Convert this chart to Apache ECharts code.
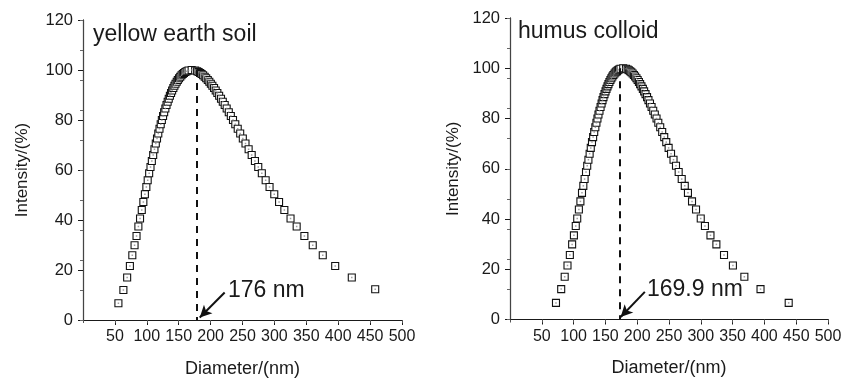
<!DOCTYPE html>
<html>
<head>
<meta charset="utf-8">
<script src="https://cdn.jsdelivr.net/npm/echarts@6/dist/echarts.min.js"></script>
<style>
  html, body { margin: 0; padding: 0; background: #fff; }
  #chart { width: 854px; height: 383px; }
</style>
</head>
<body>
<div id="chart"></div>
<script>
// yellow earth soil
var yellowDiameter = [55.5, 63.3, 69.2, 73.5, 77.3, 80.8, 83.9, 86.8, 89.4, 92.1, 94.6, 97.0, 99.3, 101.4, 103.7, 105.8,
  107.9, 110.0, 112.0, 114.1, 116.0, 118.0, 119.9, 121.8, 123.6, 125.5, 127.2, 129.1, 130.9, 132.7, 134.4, 136.2,
  138.0, 139.7, 141.6, 143.3, 145.0, 146.9, 148.6, 150.5, 152.4, 154.4, 156.4, 158.2, 160.4, 162.5, 165.4, 170.3,
  175.8, 178.9, 181.2, 183.7, 185.9, 188.3, 190.8, 193.1, 195.6, 198.0, 200.4, 202.8, 205.4, 208.0, 210.6, 213.4,
  216.3, 219.1, 222.1, 225.2, 228.5, 231.7, 235.1, 238.7, 242.5, 246.4, 250.5, 254.7, 259.6, 264.4, 269.5, 274.7,
  280.3, 286.3, 292.4, 299.8, 307.3, 315.6, 325.3, 334.9, 347.0, 360.1, 375.8, 395.3, 421.3, 458.0];
var yellowIntensity = [6.7, 12, 17, 21.6, 25.9, 29.9, 33.6, 37.4, 40.6, 44, 47.2, 50.3, 53.2, 55.9, 58.7, 61.2,
  63.6, 66, 68.3, 70.6, 72.6, 74.6, 76.5, 78.3, 80, 81.6, 83.1, 84.6, 86, 87.3, 88.5, 89.7,
  90.8, 91.8, 92.8, 93.7, 94.5, 95.3, 96, 96.7, 97.3, 97.9, 98.4, 98.8, 99.2, 99.5, 99.8, 100,
  99.8, 99.5, 99.2, 98.8, 98.4, 97.9, 97.3, 96.7, 96, 95.3, 94.5, 93.7, 92.8, 91.8, 90.8, 89.7,
  88.5, 87.3, 86, 84.6, 83.1, 81.6, 80, 78.3, 76.5, 74.6, 72.6, 70.6, 68.3, 66, 63.6, 61.2,
  58.7, 55.9, 53.2, 50.3, 47.2, 44, 40.6, 37.4, 33.6, 29.9, 25.9, 21.6, 17, 12.3];

// humus colloid
var humusDiameter = [72.3, 80.5, 86.0, 90.4, 94.1, 97.7, 100.5, 103.4, 105.7, 108.3, 110.7, 113.2, 115.3, 117.3, 119.5, 121.4,
  123.3, 125.2, 127.0, 128.9, 130.7, 132.4, 134.2, 135.9, 137.5, 139.1, 140.7, 142.4, 144.0, 145.5, 147.0, 148.6,
  150.2, 151.7, 153.3, 154.8, 156.3, 157.9, 159.4, 161.0, 162.6, 164.4, 166.1, 167.6, 169.5, 171.3, 173.7, 178.0,
  182.4, 185.0, 186.9, 189.0, 190.8, 192.8, 194.8, 196.7, 198.8, 200.7, 202.7, 204.6, 206.7, 208.9, 210.9, 213.1,
  215.5, 217.7, 220.1, 222.6, 225.2, 227.7, 230.4, 233.2, 236.2, 239.3, 242.5, 245.7, 249.4, 253.2, 257.1, 261.0,
  265.2, 270.0, 274.8, 279.8, 286.2, 292.5, 299.9, 306.5, 315.2, 324.5, 336.5, 350.5, 368.5, 393.9, 438.2];
var humusIntensity = [6.6, 12.1, 17, 21.5, 25.7, 29.9, 33.5, 37.2, 40.2, 43.8, 47, 50.4, 53.2, 55.9, 58.7, 61.2,
  63.6, 66, 68.3, 70.6, 72.6, 74.6, 76.5, 78.3, 80, 81.6, 83.1, 84.6, 86, 87.3, 88.5, 89.7,
  90.8, 91.8, 92.8, 93.7, 94.5, 95.3, 96, 96.7, 97.3, 97.9, 98.4, 98.8, 99.2, 99.5, 99.8, 100,
  99.8, 99.5, 99.2, 98.8, 98.4, 97.9, 97.3, 96.7, 96, 95.3, 94.5, 93.7, 92.8, 91.8, 90.8, 89.7,
  88.5, 87.3, 86, 84.6, 83.1, 81.6, 80, 78.3, 76.5, 74.6, 72.6, 70.6, 68.3, 66, 63.6, 61.2,
  58.7, 55.9, 53.2, 50.4, 47, 43.8, 40.2, 37.2, 33.5, 29.9, 25.7, 21.5, 17, 12.1, 6.6];

// peak markers: dashed line x, arrow start [x, y], arrow tip [x, y]
var yellowPeak = 178;
var yellowArrow = [[222, 11], [183, 1]];
var humusPeak = 173;
var humusArrow = [[212, 11], [174, 1]];

var FONT = '"Liberation Sans", Arial, sans-serif';
var INK = '#1a1a1a';

function zip(xs, ys) {
  return xs.map(function (x, i) { return [x, ys[i]]; });
}

function xAxisFor(idx) {
  return [{
    gridIndex: idx, type: 'value', min: 0, max: 500, interval: 50,
    name: 'Diameter/(nm)', nameLocation: 'middle', nameGap: 40,
    nameTextStyle: { fontFamily: FONT, fontSize: 18, color: INK },
    axisLine: { lineStyle: { color: INK, width: 1.2 } },
    axisTick: { length: 5, lineStyle: { color: INK } },
    axisLabel: { showMinLabel: false, margin: 9, fontFamily: FONT, fontSize: 16, color: INK },
    splitLine: { show: false }
  }, {
    gridIndex: idx, type: 'value', position: 'top', min: 0, max: 500, interval: 50,
    axisLine: { show: true, lineStyle: { color: INK, width: 1 } },
    axisTick: { inside: true, length: 3, lineStyle: { color: '#555' } },
    axisLabel: { show: false }, splitLine: { show: false }
  }];
}

function yAxisFor(idx, gap) {
  return [{
    gridIndex: idx, type: 'value', min: 0, max: 120, interval: 20,
    name: 'Intensity/(%)', nameLocation: 'middle', nameGap: gap,
    nameTextStyle: { fontFamily: FONT, fontSize: 17, color: INK },
    axisLine: { show: true, lineStyle: { color: INK, width: 1.2 } },
    axisTick: { show: true, length: 5, lineStyle: { color: INK } },
    axisLabel: { margin: 10, fontFamily: FONT, fontSize: 16.5, color: INK },
    splitLine: { show: false }
  }, {
    gridIndex: idx, type: 'value', position: 'right', min: 0, max: 120, interval: 12,
    axisLine: { show: true, lineStyle: { color: '#444', width: 1 } },
    axisTick: { show: true, inside: true, length: 3, lineStyle: { color: '#666' } },
    axisLabel: { show: false }, splitLine: { show: false }
  }];
}

function squares(idx, xs, ys, peak, arrow) {
  var pts = zip(xs, ys);
  return [{
    type: 'scatter', xAxisIndex: idx * 2, yAxisIndex: idx * 2,
    data: pts, symbol: 'rect', symbolSize: 7,
    itemStyle: { color: '#fff', borderColor: '#111', borderWidth: 1.1, opacity: 1 },
    markLine: {
      silent: true, animation: false,
      label: { show: false },
      data: [
        [{ coord: [peak, 100], symbol: 'none' },
         { coord: [peak, 0], symbol: 'none',
           lineStyle: { color: '#111', width: 2, type: [7, 6] } }],
        [{ coord: arrow[0], symbol: 'none' },
         { coord: arrow[1], symbol: 'arrow', symbolSize: [9, 12],
           lineStyle: { color: '#111', width: 2, type: 'solid' } }]
      ]
    }
  }, {
    type: 'scatter', xAxisIndex: idx * 2, yAxisIndex: idx * 2,
    data: pts, symbol: 'rect', symbolSize: 1.5, silent: true,
    itemStyle: { color: '#888' }
  }];
}

function label(x, y, text) {
  return {
    type: 'text', left: x, top: y,
    style: { text: text, fontFamily: FONT, fontSize: 23, fill: INK }
  };
}

var myChart = echarts.init(document.getElementById('chart'), null, { renderer: 'canvas' });

myChart.setOption({
  animation: false,
  backgroundColor: '#fff',
  grid: [
    { left: 83, top: 20, width: 319, height: 300 },
    { left: 510, top: 18, width: 318, height: 301.5 }
  ],
  xAxis: xAxisFor(0).concat(xAxisFor(1)),
  yAxis: yAxisFor(0, 52).concat(yAxisFor(1, 48)),
  series: squares(0, yellowDiameter, yellowIntensity, yellowPeak, yellowArrow)
    .concat(squares(1, humusDiameter, humusIntensity, humusPeak, humusArrow)),
  graphic: [
    label(93, 23, 'yellow earth soil'),
    label(228, 279, '176 nm'),
    label(518, 20, 'humus colloid'),
    label(647, 278, '169.9 nm')
  ]
});
</script>
</body>
</html>
